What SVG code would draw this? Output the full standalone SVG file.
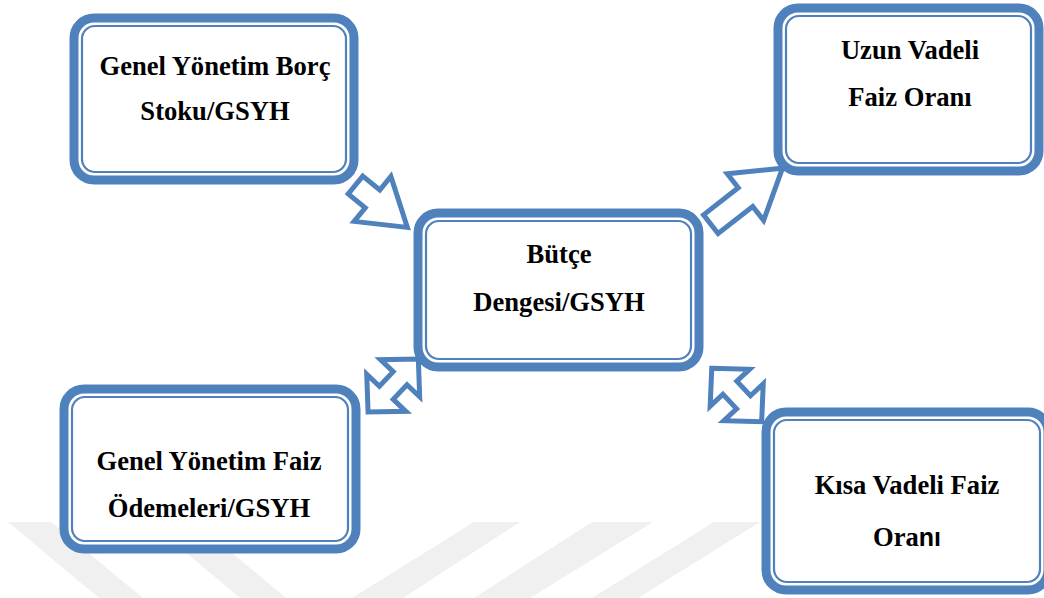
<svg xmlns="http://www.w3.org/2000/svg" width="1044" height="598" viewBox="0 0 1044 598">
<defs>
<style>
.outer{fill:#ffffff;stroke:#4f81bd;stroke-width:9}
.inner{fill:none;stroke:#4f81bd;stroke-width:2.2}
.lbl{font-family:"Liberation Serif","Times New Roman",serif;font-weight:bold;font-size:26.6px;fill:#000;text-anchor:middle}
.arr{fill:#ffffff;stroke:#4f81bd;stroke-width:5;stroke-linejoin:miter}
.wm{fill:#f0f0f0}
</style>
</defs>
<rect width="1044" height="598" fill="#ffffff"/>
<g id="watermark">
<polygon class="wm" points="8,522 51,522 143,598 99,598"/>
<polygon class="wm" points="150,522 195,522 286,598 240,598"/>
<polygon class="wm" points="474,522 520,522 403,598 352,598"/>
<polygon class="wm" points="592,522 653,522 530,598 474,598"/>
<polygon class="wm" points="714,522 760,522 638,598 592,598"/>
</g>
<g id="connectors">
<polygon class="arr" points="0,-11.5 22,-11.5 22,-29 67,0 22,29 22,11.5 0,11.5" transform="translate(355.5,185) rotate(39.3)"/>
<polygon class="arr" points="0,-11.8 44,-11.8 44,-29.5 91,0 44,29.5 44,11.8 0,11.8" transform="translate(710.8,224.2) rotate(-38)"/>
<polygon class="arr" points="-36.5,0 -10,-27 -10,-9.5 10,-9.5 10,-27 36.5,0 10,27 10,9.5 -10,9.5 -10,27" transform="translate(393.2,385.5) rotate(-46.5)"/>
<polygon class="arr" points="-36.5,0 -10,-27 -10,-9.5 10,-9.5 10,-27 36.5,0 10,27 10,9.5 -10,9.5 -10,27" transform="translate(736.7,395) rotate(46.9)"/>
</g>
<g id="node-borc">
<rect class="outer" x="74" y="18" width="280" height="162" rx="20"/>
<rect class="inner" x="82" y="26" width="264" height="146" rx="13"/>
<text class="lbl" x="215" y="75">Genel Yönetim Borç</text>
<text class="lbl" x="215" y="120">Stoku/GSYH</text>
</g>
<g id="node-butce">
<rect class="outer" x="418" y="213" width="281" height="154" rx="20"/>
<rect class="inner" x="426" y="221" width="265" height="138" rx="13"/>
<text class="lbl" x="559" y="263">Bütçe</text>
<text class="lbl" x="559" y="311">Dengesi/GSYH</text>
</g>
<g id="node-uzun">
<rect class="outer" x="778" y="8" width="261" height="163" rx="20"/>
<rect class="inner" x="786" y="16" width="245" height="147" rx="13"/>
<text class="lbl" x="910" y="59">Uzun Vadeli</text>
<text class="lbl" x="910" y="106">Faiz Oranı</text>
</g>
<g id="node-faiz">
<rect class="outer" x="64" y="389" width="292" height="160" rx="20"/>
<rect class="inner" x="72" y="397" width="276" height="144" rx="13"/>
<text class="lbl" x="209" y="470">Genel Yönetim Faiz</text>
<text class="lbl" x="209" y="517">Ödemeleri/GSYH</text>
</g>
<g id="node-kisa">
<rect class="outer" x="766" y="412" width="282" height="178" rx="20"/>
<rect class="inner" x="774" y="420" width="266" height="162" rx="13"/>
<text class="lbl" x="907" y="494">Kısa Vadeli Faiz</text>
<text class="lbl" x="907" y="546">Ora<tspan style="font-family:'Liberation Sans',Arial,sans-serif;font-size:25px">nı</tspan></text>
</g>
</svg>
